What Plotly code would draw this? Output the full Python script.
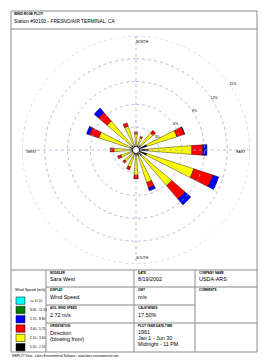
import plotly.graph_objects as go
import numpy as np

W, H = 268, 361

# ---------------- data ----------------
directions = ["N", "NNE", "NE", "ENE", "E", "ESE", "SE", "SSE",
              "S", "SSW", "SW", "WSW", "W", "WNW", "NW", "NNW"]
theta_deg = [0, 22.5, 45, 67.5, 90, 112.5, 135, 157.5,
             180, 202.5, 225, 247.5, 270, 292.5, 315, 337.5]

class_labels = [">= 11.10", "8.80 - 11.10", "5.70 - 8.80",
                "3.60 - 5.70", "2.10 - 3.60", "0.50 - 2.10"]
class_colors = ["#00FFFF", "#008000", "#0000FF", "#FF0000", "#FFFF00", "#000000"]

# percent frequency per class (blowing from), innermost class first
pct_050_210 = [0.6, 0.6, 0.8, 1.5, 1.6, 1.5, 1.0, 0.8, 0.7, 0.6, 0.5, 0.5, 0.6, 0.8, 0.8, 0.6]
pct_210_360 = [1.5, 1.1, 2.15, 4.15, 5.75, 6.5, 5.2, 3.7, 2.6, 1.75, 1.5, 1.6, 2.3, 4.35, 4.2, 2.7]
pct_360_570 = [0.3, 0.2, 0.45, 1.05, 1.45, 2.65, 2.3, 0.75, 0.5, 0.4, 0.3, 0.45, 0.5, 1.3, 1.5, 0.45]
pct_570_880 = [0, 0, 0, 0.05, 0.55, 0.8, 1.0, 0.4, 0, 0, 0, 0, 0, 0.4, 0.75, 0]
pct_880_1110 = [0] * 16
pct_ge_1110 = [0] * 16

ring_values = [3, 6, 9, 12, 15]
ring_labels = ["3%", "6%", "9%", "12%", "15%"]
compass_labels = ["NORTH", "SOUTH", "WEST", "EAST"]

station = "Station #93193 - FRESNO/AIR TERMINAL, CA"
modeler = "Sara West"
date_str = "8/19/2002"
company = "USDA-ARS"
display = "Wind Speed"
unit = "m/s"
avg_speed = "2.72 m/s"
calm = "17.50%"
period = ["1961", "Jan 1 - Jun 30", "Midnight - 11 PM"]

# ---------------- helpers ----------------
def px(x):
    return x / W

def py(y):
    return 1 - y / H

FONT = "Liberation Sans, Arial, sans-serif"
GRID = "#a4a4dc"

fig = go.Figure()

# rings
t = np.linspace(0, 360, 241)
for rv in ring_values:
    fig.add_trace(go.Scatterpolar(r=[rv] * len(t), theta=t, mode="lines",
                                  line=dict(color=GRID, width=0.8, dash="dot"),
                                  hoverinfo="skip", showlegend=False))
rmax = ring_values[-1]
for a in (0, 90):
    fig.add_trace(go.Scatterpolar(r=[rmax, 0, rmax], theta=[a, 0, a + 180], mode="lines",
                                  line=dict(color=GRID, width=0.8, dash="dot"),
                                  hoverinfo="skip", showlegend=False))

series = [pct_050_210, pct_210_360, pct_360_570, pct_570_880, pct_880_1110, pct_ge_1110]
colors_inner_first = class_colors[::-1]
for vals, col in zip(series, colors_inner_first):
    fig.add_trace(go.Barpolar(r=vals, theta=theta_deg, width=[9] * 16,
                              marker=dict(color=col, line=dict(color="black", width=0.4)),
                              showlegend=False))

# calm circle
fig.add_trace(go.Scatterpolar(r=[0], theta=[0], mode="markers",
                              marker=dict(size=7, color="white", line=dict(color="black", width=0.8)),
                              showlegend=False, hoverinfo="skip"))

# ring labels
fig.add_trace(go.Scatterpolar(r=ring_values, theta=[55] * 5, mode="text", text=ring_labels,
                              textposition="middle right",
                              textfont=dict(size=3.5, color="black", family=FONT),
                              showlegend=False, hoverinfo="skip"))
# compass labels
fig.add_trace(go.Scatterpolar(r=[rmax * 0.96, rmax * 0.96], theta=[0, 180], mode="text",
                              text=compass_labels[:2], textposition=["bottom right", "top right"],
                              textfont=dict(size=3.5, color="black", family=FONT),
                              showlegend=False, hoverinfo="skip"))
fig.add_trace(go.Scatterpolar(r=[rmax * 0.96, rmax * 0.96], theta=[270, 90], mode="text",
                              text=compass_labels[2:], textposition=["bottom right", "bottom left"],
                              textfont=dict(size=3.5, color="black", family=FONT),
                              showlegend=False, hoverinfo="skip"))

cx, cy, R = 136, 150, 114
fig.update_layout(
    width=W, height=H, margin=dict(l=0, r=0, t=0, b=0),
    paper_bgcolor="white", plot_bgcolor="white",
    polar=dict(
        domain=dict(x=[px(cx - R), px(cx + R)], y=[py(cy + R), py(cy - R)]),
        bgcolor="white", barmode="stack", bargap=0,
        angularaxis=dict(direction="clockwise", rotation=90, showgrid=False,
                         showline=False, showticklabels=False, ticks=""),
        radialaxis=dict(range=[0, rmax], showgrid=False, showline=False,
                        showticklabels=False, ticks=""),
    ),
)

# ---------------- frame ----------------
LC = "#8a8a8a"
shapes = []
def line(x0, y0, x1, y1, w=1):
    shapes.append(dict(type="line", xref="paper", yref="paper",
                       x0=px(x0), y0=py(y0), x1=px(x1), y1=py(y1),
                       line=dict(color=LC, width=w)))
shapes.append(dict(type="rect", xref="paper", yref="paper", x0=px(11), y0=py(352),
                   x1=px(257), y1=py(11), line=dict(color=LC, width=1)))
C1, C2, C3 = 46, 134, 195
line(11, 29, 257, 29)
line(11, 270, 257, 270)
line(C1, 270, C1, 352)
line(C2, 270, C2, 352)
line(C3, 270, C3, 352)
line(C1, 287, 257, 287)
line(C1, 305, C3, 305)
line(C1, 323, 257, 323)

# legend boxes
box_tops = [297, 306.3, 315.6, 324.9, 334.2, 343.5]
for c, yt in zip(class_colors, box_tops):
    shapes.append(dict(type="rect", xref="paper", yref="paper",
                       x0=px(16), x1=px(25), y0=py(yt + 7.3), y1=py(yt),
                       fillcolor=c, line=dict(color="black", width=0.5)))
fig.update_layout(shapes=shapes)

ann = []
def text(x, y, s, size, bold=False):
    ann.append(dict(x=px(x), y=py(y), xref="paper", yref="paper", text=(f"<b>{s}</b>" if bold else s),
                    showarrow=False, xanchor="left", yanchor="middle",
                    font=dict(size=size, color="black", family=FONT), borderpad=0))

text(13, 14, "WIND ROSE PLOT:", 3.3, True)
text(13, 21.5, station, 4.8)

text(14, 289.5, "Wind Speed (m/s)", 3.8)
for lab, yt in zip(class_labels, box_tops):
    text(29, yt + 3.7, lab, 3.2)

LS, VS = 3.0, 5.4
X1, X2, X3 = C1 + 3, C2 + 3, C3 + 3
text(X1, 272.5, "MODELER", LS, True); text(X1, 279, modeler, VS)
text(X1, 289.5, "DISPLAY", LS, True); text(X1, 296.5, display, VS)
text(X1, 307.5, "AVG. WIND SPEED", LS, True); text(X1, 314.5, avg_speed, VS)
text(X1, 325.5, "ORIENTATION", LS, True); text(X1, 332.5, "Direction", VS); text(X1, 338.5, "(blowing from)", VS)

text(X2, 272.5, "DATE", LS, True); text(X2, 279, date_str, VS)
text(X2, 289.5, "UNIT", LS, True); text(X2, 296.5, unit, VS)
text(X2, 307.5, "CALM WINDS", LS, True); text(X2, 314.5, calm, VS)
text(X2, 325.5, "PLOT YEAR-DATE-TIME", LS, True)
text(X2, 332, period[0], VS); text(X2, 338, period[1], VS); text(X2, 344, period[2], VS)

text(X3, 272.5, "COMPANY NAME", LS, True); text(X3, 279, company, VS)
text(X3, 289.5, "COMMENTS", LS, True)

text(11, 356, "WRPLOT View - Lakes Environmental Software - www.lakes-environmental.com", 3.0)

fig.update_layout(annotations=ann)
fig.write_html("out.html")
